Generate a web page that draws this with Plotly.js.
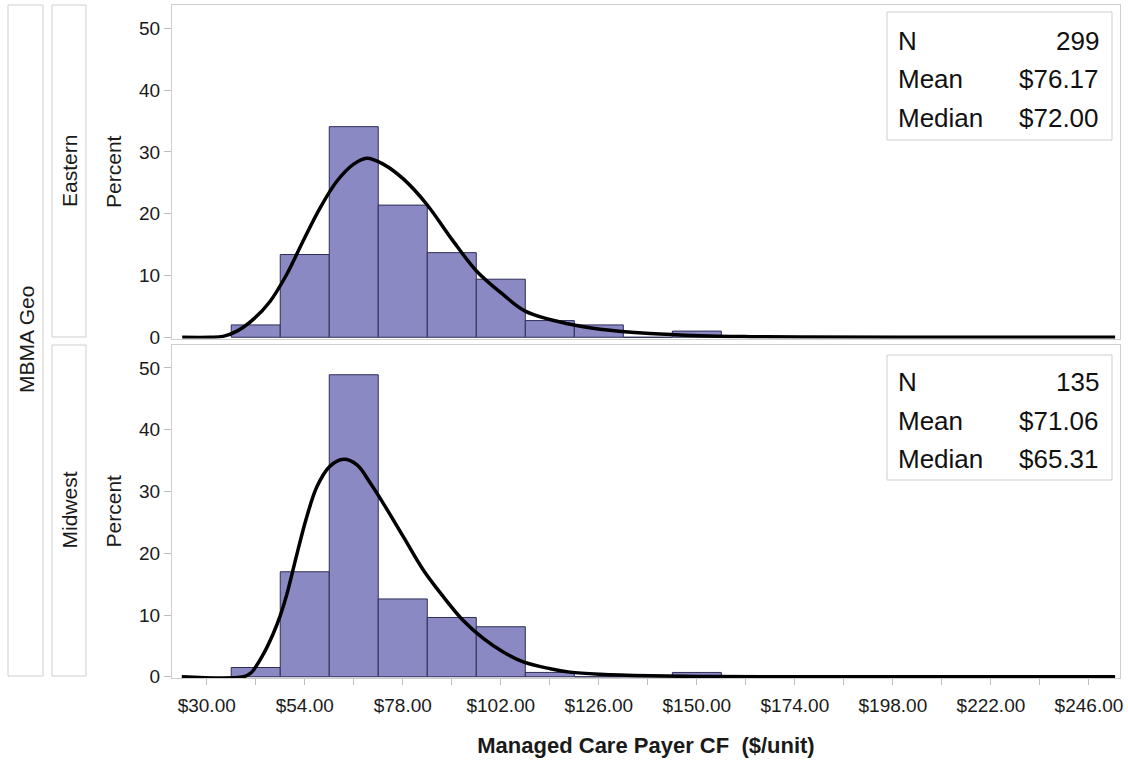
<!DOCTYPE html>
<html>
<head>
<meta charset="utf-8">
<script src="https://cdn.plot.ly/plotly-3.0.1.min.js"></script>
<style>
  html, body { margin: 0; padding: 0; background: #ffffff; }
  #chart { width: 1128px; height: 762px; }
</style>
</head>
<body>
<div id="chart"></div>
<script>
// ---- Data ----
const binCenters = [42, 54, 66, 78, 90, 102, 114, 126, 138, 150];
const binWidth = 12;
const easternPct = [2.0, 13.4, 34.1, 21.4, 13.7, 9.4, 2.7, 2.0, 0, 1.0];
const midwestPct = [1.5, 17.0, 48.9, 12.6, 9.6, 8.1, 0.7, 0, 0, 0.7];

const easternCurveX = [24.0, 30.9, 34.0, 37.4, 41.4, 45.5, 49.6, 53.6, 57.8, 61.9, 65.9, 69.2, 73.3, 78.2, 83.9, 90.3, 96.1, 102.6, 108.1, 119.0, 126.3, 138.5, 150.8, 163.0, 175.3, 200.0, 252.4];
const easternCurveY = [0, 0, 0.15, 1.0, 2.9, 5.8, 10.2, 15.6, 21.0, 25.3, 28.0, 29.0, 28.0, 25.6, 21.5, 15.6, 10.7, 6.9, 4.2, 2.1, 1.3, 0.6, 0.25, 0.1, 0.03, 0, 0];

const midwestCurveX = [23.9, 39.0, 40.8, 43.9, 46.3, 48.0, 49.6, 52.1, 54.5, 57.0, 60.2, 63.5, 66.8, 70.0, 73.3, 78.2, 83.1, 88.0, 92.8, 97.7, 102.6, 107.5, 114.1, 118.9, 126.3, 138.5, 150.8, 170.0, 252.4];
const midwestCurveY = [0, 0, 0.6, 3.7, 7.0, 9.9, 13.3, 19.9, 25.9, 30.8, 34.1, 35.2, 34.3, 31.4, 28.0, 22.6, 17.2, 12.9, 9.1, 6.2, 4.0, 2.4, 1.3, 0.75, 0.4, 0.15, 0.05, 0, 0];

const xTickVals = [30, 54, 78, 102, 126, 150, 174, 198, 222, 246];
const xTickText = ['$30.00', '$54.00', '$78.00', '$102.00', '$126.00', '$150.00', '$174.00', '$198.00', '$222.00', '$246.00'];

const statLabels = ['N', 'Mean', 'Median'];
const easternStats = ['299', '$76.17', '$72.00'];
const midwestStats = ['135', '$71.06', '$65.31'];

const panelLabels = ['Eastern', 'Midwest'];
const groupLabel = 'MBMA Geo';
const yTitle = 'Percent';
const xTitle = 'Managed Care Payer CF\u00a0\u00a0($/unit)';

// ---- Styling ----
const FONT = 'Liberation Sans, Arial, Helvetica, sans-serif';
const TXT = '#1a1a1a';
const FRAME = '#cfcfcf';
const BAR_FILL = '#8a89c4';
const BAR_LINE = '#2e2e58';

const W = 1128, H = 762;
const M = {l: 172, r: 8, t: 5, b: 84};
const PW = W - M.l - M.r, PH = H - M.t - M.b;
const px2x = p => (p - M.l) / PW;
const py2y = p => (H - M.b - p) / PH;

const curveLine = {color: '#000000', width: 3.5, shape: 'spline', smoothing: 1.0};

const traces = [
  {type: 'bar', x: binCenters, y: easternPct, width: binWidth, xaxis: 'x2', yaxis: 'y2',
   marker: {color: BAR_FILL, line: {color: BAR_LINE, width: 1}}, hoverinfo: 'skip'},
  {type: 'scatter', mode: 'lines', x: easternCurveX, y: easternCurveY, xaxis: 'x2', yaxis: 'y2',
   line: curveLine, cliponaxis: false, hoverinfo: 'skip'},
  {type: 'bar', x: binCenters, y: midwestPct, width: binWidth, xaxis: 'x', yaxis: 'y',
   marker: {color: BAR_FILL, line: {color: BAR_LINE, width: 1}}, hoverinfo: 'skip'},
  {type: 'scatter', mode: 'lines', x: midwestCurveX, y: midwestCurveY, xaxis: 'x', yaxis: 'y',
   line: curveLine, cliponaxis: false, hoverinfo: 'skip'}
];

const xRange = [21.5, 253.6];
const yRange = [-0.2, 53.8];
const gapFrac = 6 / PH;
const botDomain = [0, 0.5 - gapFrac / 2];
const topDomain = [0.5 + gapFrac / 2, 1];

const yAxisCommon = {
  range: yRange, dtick: 10, tick0: 0, ticks: 'outside', ticklen: 7, tickcolor: '#bdbdbd',
  showline: true, mirror: true, linecolor: FRAME, linewidth: 1,
  showgrid: false, zeroline: false,
  tickfont: {family: FONT, size: 19, color: TXT},
  title: {text: yTitle, font: {family: FONT, size: 21, color: TXT}, standoff: 11}
};

const shapes = [];
const annotations = [];

// Group strip (outer)
shapes.push({type: 'rect', xref: 'paper', yref: 'paper', x0: px2x(8), x1: px2x(43), y0: py2y(676), y1: py2y(5),
  line: {color: FRAME, width: 1}, fillcolor: 'rgba(0,0,0,0)'});
annotations.push({xref: 'paper', yref: 'paper', x: px2x(26), y: py2y(340), text: groupLabel, showarrow: false,
  textangle: -90, xanchor: 'center', yanchor: 'middle', font: {family: FONT, size: 21, color: TXT}});

// Panel strips
const stripY = [[5, 337], [345, 676]];
panelLabels.forEach((lab, i) => {
  shapes.push({type: 'rect', xref: 'paper', yref: 'paper', x0: px2x(52), x1: px2x(86),
    y0: py2y(stripY[i][1]), y1: py2y(stripY[i][0]), line: {color: FRAME, width: 1}, fillcolor: 'rgba(0,0,0,0)'});
  annotations.push({xref: 'paper', yref: 'paper', x: px2x(69), y: py2y((stripY[i][0] + stripY[i][1]) / 2),
    text: lab, showarrow: false, textangle: -90, xanchor: 'center', yanchor: 'middle',
    font: {family: FONT, size: 21, color: TXT}});
});

// Stat boxes
const boxes = [
  {top: 12, bottom: 140, rows: [41, 79, 118], vals: easternStats},
  {top: 355, bottom: 480, rows: [382, 421, 459], vals: midwestStats}
];
boxes.forEach(b => {
  shapes.push({type: 'rect', xref: 'paper', yref: 'paper', x0: px2x(887), x1: px2x(1112),
    y0: py2y(b.bottom), y1: py2y(b.top), line: {color: FRAME, width: 1}, fillcolor: '#ffffff', layer: 'above'});
  statLabels.forEach((lab, i) => {
    annotations.push({xref: 'paper', yref: 'paper', x: px2x(896), y: py2y(b.rows[i]), text: lab, showarrow: false,
      xanchor: 'left', yanchor: 'middle', font: {family: FONT, size: 26, color: '#111111'}});
    annotations.push({xref: 'paper', yref: 'paper', x: px2x(1101), y: py2y(b.rows[i]), text: b.vals[i], showarrow: false,
      xanchor: 'right', yanchor: 'middle', font: {family: FONT, size: 26, color: '#111111'}});
  });
});

const layout = {
  width: W, height: H,
  margin: M,
  paper_bgcolor: '#ffffff', plot_bgcolor: '#ffffff',
  showlegend: false,
  bargap: 0,
  xaxis: {
    domain: [0, 1], anchor: 'y', range: xRange,
    tickvals: xTickVals, ticktext: xTickText,
    ticks: 'outside', ticklen: 6, tickcolor: '#bdbdbd',
    ticklabelstandoff: 4,
    minor: {tick0: 30, dtick: 12, ticks: 'outside', ticklen: 6, tickcolor: '#bdbdbd', showgrid: false},
    showline: true, mirror: true, linecolor: FRAME, linewidth: 1,
    showgrid: false, zeroline: false,
    tickfont: {family: FONT, size: 19, color: TXT},
    title: {text: xTitle, font: {family: FONT, size: 22, color: TXT, weight: 'bold'}, standoff: 22}
  },
  xaxis2: {
    domain: [0, 1], anchor: 'y2', matches: 'x', range: xRange,
    showticklabels: false, ticks: '',
    showline: true, mirror: true, linecolor: FRAME, linewidth: 1,
    showgrid: false, zeroline: false
  },
  yaxis: Object.assign({}, yAxisCommon, {domain: botDomain, anchor: 'x'}),
  yaxis2: Object.assign({}, yAxisCommon, {domain: topDomain, anchor: 'x2'}),
  shapes: shapes,
  annotations: annotations
};

Plotly.newPlot('chart', traces, layout, {displayModeBar: false, staticPlot: true});
</script>
</body>
</html>
